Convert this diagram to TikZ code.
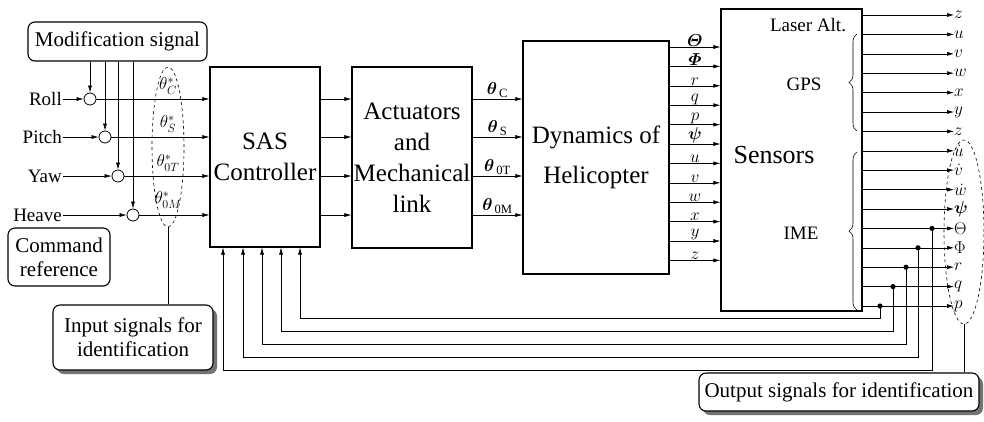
\documentclass[tikz,border=0pt]{standalone}
\usepackage{amsmath}
\usepackage{fontspec}
\setmainfont{Liberation Serif}
\usetikzlibrary{arrows.meta,shapes.geometric,decorations.pathreplacing,shadows,positioning}

\tikzset{
  blockbox/.style={draw, line width=1.2pt, align=center, inner sep=0pt,
    font=\fontsize{25}{31}\selectfont},
  notebox/.style={draw, line width=1.1pt, rounded corners=7pt, align=center,
    inner sep=2pt, font=\fontsize{21}{24}\selectfont},
  shadowbox/.style={notebox, fill=white,
    drop shadow={shadow xshift=4pt, shadow yshift=-4pt, fill=black!55, opacity=1}},
  sumnode/.style={circle, draw, line width=0.8pt, minimum size=12pt, inner sep=0pt},
  sig/.style={-{Latex[length=7pt,width=4pt]}, line width=0.6pt},
  wire/.style={line width=0.6pt},
  siglabel/.style={font=\fontsize{16.5}{17}\selectfont, inner sep=0pt},
  inlabel/.style={font=\fontsize{19}{21}\selectfont, inner sep=1pt},
  groupell/.style={ellipse, draw, dashed, line width=0.6pt, inner sep=0pt}
}

\begin{document}
\begin{tikzpicture}[x=1pt, y=-1pt]
\useasboundingbox (0,0) rectangle (984,421);

% Blocks
\node[blockbox, minimum width=110pt, minimum height=180pt] (sas) at (265,157) {SAS\\Controller};
\node[blockbox, minimum width=120pt, minimum height=181pt] (act) at (412,157.5) {Actuators\\and\\Mechanical\\link};
\node[blockbox, minimum width=146pt, minimum height=233pt] (dyn) at (596,157.5) {Dynamics of\\[9pt]Helicopter};
\node[blockbox, minimum width=141pt, minimum height=302pt] (sen) at (791.5,160) {};

% Sensor texts
\node[font=\fontsize{26}{30}\selectfont] (sentxt) at (774,155) {Sensors};
\node[inlabel] (laser) at (808,25) {Laser Alt.};
\node[inlabel] (gps) at (804,84) {GPS};
\node[inlabel] (ime) at (801,233) {IME};
\draw[wire, decorate, decoration={brace, amplitude=8pt}] (857,131) -- (857,34);
\draw[wire, decorate, decoration={brace, amplitude=8pt}] (857,310) -- (857,152);

% Notes
\node[notebox, minimum width=179pt, minimum height=39pt] (mod) at (117.5,41.5) {Modification signal};
\node[notebox, minimum width=102pt, minimum height=58pt] (cmd) at (59,257) {Command\\reference};
\node[shadowbox, minimum width=160pt, minimum height=65pt] (insig) at (133,337.5) {Input signals for\\identification};
\node[shadowbox, minimum width=280pt, minimum height=38pt] (outsig) at (839,392) {Output signals for identification};

% Command inputs and modification
\foreach \nm/\txt/\xc/\yc in {roll/Roll/90/99, pitch/Pitch/105/137, yaw/Yaw/118/176, heave/Heave/133/215}{
  \node[sumnode] (\nm) at (\xc,\yc) {};
  \node[inlabel, anchor=east] (\nm-l) at (63,\yc) {\txt};
  \draw[sig] (\nm-l) -- (\nm);
  \draw[sig] (mod.south -| \nm) -- (\nm);
  \draw[sig] (\nm) -- (\nm -| sas.west);
}

% Input signals
\foreach \sub/\yc [count=\i] in {C/86, S/124, 0T/163, 0M/200}
  \node[font=\fontsize{17}{19}\selectfont, inner sep=0pt] (tstar\i) at (168,\yc) {$\theta^{*}_{\sub}$};
\node[groupell, minimum width=32pt, minimum height=160pt] (inell) at (168,147) {};
\draw[wire] (inell.south) -- (inell.south |- insig.north);

% SAS to actuators to dynamics
\foreach \yc/\lab in {99/C, 137/S, 176/0T, 215/0M}{
  \draw[sig] (sas.east |- 0,\yc) -- (act.west |- 0,\yc);
  \draw[sig] (act.east |- 0,\yc) -- node[above, inner sep=1pt, font=\fontsize{18}{20}\selectfont]
    {$\boldsymbol{\theta}_{\,\mathrm{\lab}}$} (dyn.west |- 0,\yc);
}

% Dynamics to sensors
\foreach \lab [count=\i] in {\boldsymbol{\varTheta}, \boldsymbol{\varPhi}, r, q, p, \boldsymbol{\psi}, u, v, w, x, y, z}{
  \pgfmathsetmacro\yc{47+(\i-1)*19.4}
  \draw[sig] (dyn.east |- 0,\yc) -- node[siglabel, above, inner sep=0.5pt] {$\lab$} (sen.west |- 0,\yc);
}

% Sensor outputs
\foreach \lab [count=\i] in {z, u, v, w, x, y, z, \dot{u}, \dot{v}, \dot{w}, \boldsymbol{\psi}, \Theta, \Phi, r, q, p}{
  \pgfmathsetmacro\yc{15+(\i-1)*19.4}
  \node[siglabel, anchor=west] (out\i) at (954,\yc) {$\lab$};
  \draw[sig] (sen.east |- out\i) -- (out\i.west);
}
\node[groupell, minimum width=40pt, minimum height=184pt] (outell) at (964,232) {};
\draw[wire] (outell.south) -- (outell.south |- outsig.north);

% Feedback for identification
\foreach \j/\xt/\yb/\xs in {12/932/370/223, 13/918/357/243, 14/906/344/262, 15/893/331/281, 16/880/318/300}{
  \coordinate (tap\j) at (out\j.west -| \xt,0);
  \fill (tap\j) circle (2.6pt);
  \draw[sig] (tap\j) |- (\xs,\yb) -- (sas.south -| \xs,0);
}

\end{tikzpicture}
\end{document}
